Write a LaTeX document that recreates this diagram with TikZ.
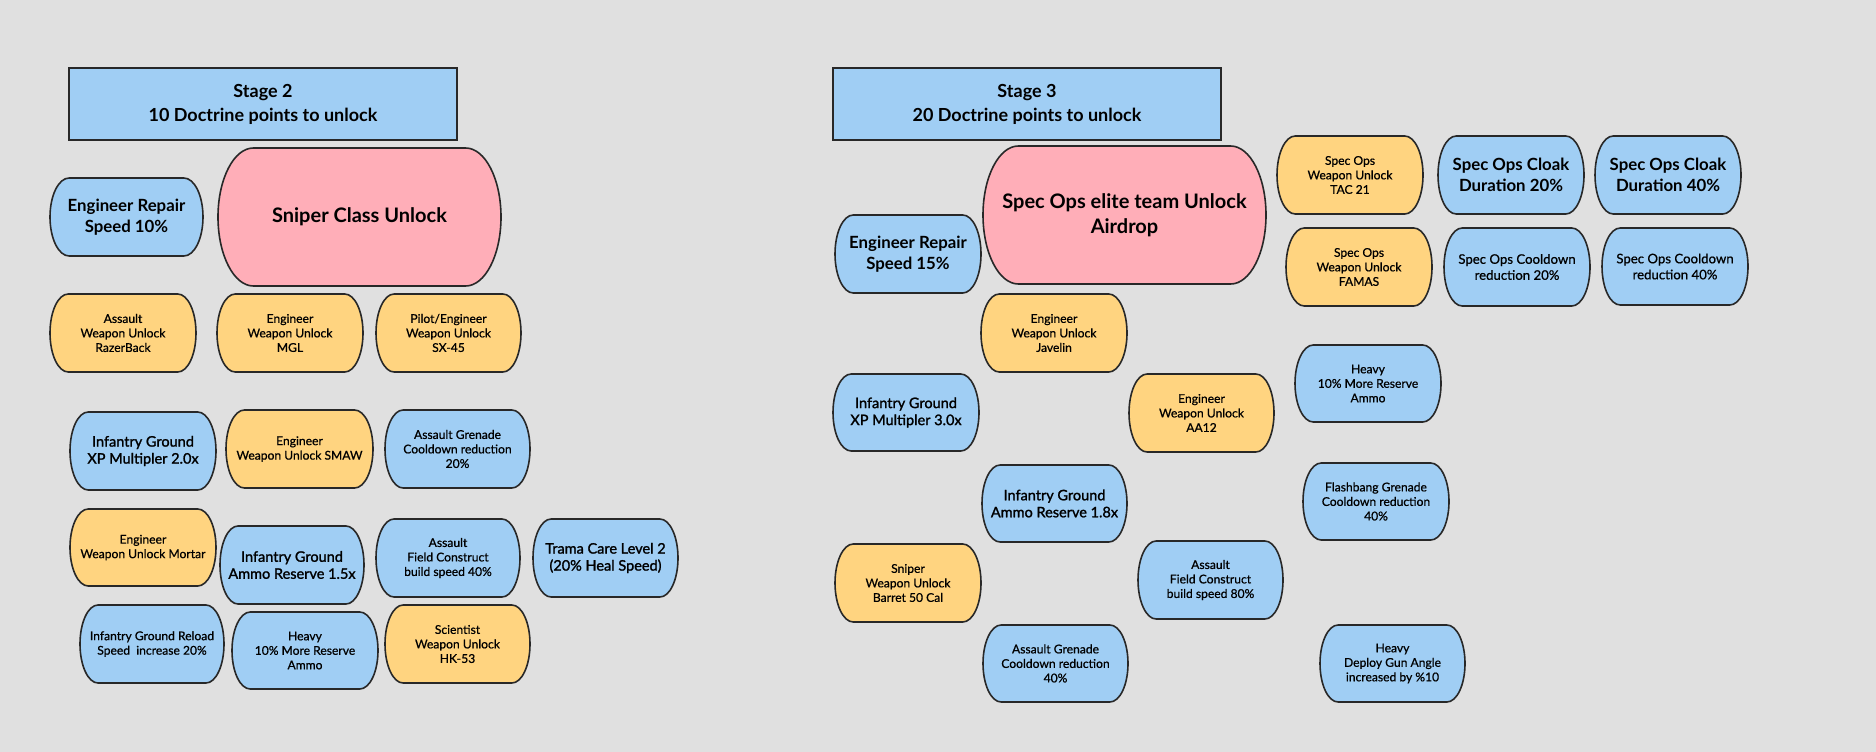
\documentclass[tikz,border=0pt]{standalone}
\usepackage{fontspec}
\setmainfont{Lato}
\newfontfamily\latomed[FakeBold=0.7]{Lato}
\newfontfamily\latosemi[FakeBold=1.5]{Lato}
\definecolor{bgc}{RGB}{224,224,224}
\definecolor{cblue}{RGB}{160,206,244}
\definecolor{corange}{RGB}{255,212,128}
\definecolor{cpink}{RGB}{255,174,184}
\definecolor{bd}{RGB}{40,40,40}
\tikzset{
  pillline/.style={draw=bd, line width=1.6pt},
  fH/.style={align=center, font={\fontsize{18}{24}\selectfont\bfseries}},
  fP/.style={align=center, font={\fontsize{20}{25.5}\selectfont\bfseries}},
  fB/.style={align=center, font={\fontsize{16.8}{21}\selectfont\bfseries}},
  fM/.style={align=center, font={\latosemi\fontsize{14.5}{17}\selectfont}},
  fC/.style={align=center, font={\latomed\fontsize{13.2}{16}\selectfont}},
  fS/.style={align=center, font={\latomed\fontsize{12.1}{14.5}\selectfont}},
  hdrbox/.style={draw=bd, line width=1.5pt, fill=cblue, minimum width=388pt, minimum height=72pt, inner sep=0pt},
}
% pill: flat top and bottom, half-elliptic sides
\newcommand\mkpill[8]{%
  \pgfmathsetmacro\prx{0.125*(#4-#2)}%
  \pgfmathsetmacro\pry{0.5*(#5-#3)}%
  \pgfmathsetmacro\pkx{0.448*\prx}%
  \pgfmathsetmacro\pky{0.448*\pry}%
  \draw[pillline, fill=#6] ({#2+\prx},#3) -- ({#4-\prx},#3)
    .. controls ({#4-\pkx},#3) and (#4,{#3+\pky}) .. (#4,{#3+\pry})
    .. controls (#4,{#5-\pky}) and ({#4-\pkx},#5) .. ({#4-\prx},#5)
    -- ({#2+\prx},#5)
    .. controls ({#2+\pkx},#5) and (#2,{#5-\pky}) .. (#2,{#5-\pry})
    .. controls (#2,{#3+\pky}) and ({#2+\pkx},#3) .. ({#2+\prx},#3) -- cycle;
  \node[#7] (#1) at ({(#2+#4)/2},{(#3+#5)/2}) {#8};
}
\begin{document}
\begin{tikzpicture}[x=1pt,y=-1pt]
\fill[bgc] (0,0) rectangle (1876,752);
\useasboundingbox (0,0) rectangle (1876,752);
% Stage 2
\node[hdrbox, fH] (hdr2) at (263,104) {Stage 2\\10 Doctrine points to unlock};
\mkpill{er10}{50}{178}{203}{256}{cblue}{fB}{Engineer Repair\\Speed 10\%}
\mkpill{sniper}{218}{148}{501}{286}{cpink}{fP}{Sniper Class Unlock}
\mkpill{razer}{50}{294}{196}{372}{corange}{fS}{Assault\\Weapon Unlock\\RazerBack}
\mkpill{mgl}{217}{294}{363}{372}{corange}{fS}{Engineer\\Weapon Unlock\\MGL}
\mkpill{sx45}{376}{294}{521}{372}{corange}{fS}{Pilot/Engineer\\Weapon Unlock\\SX-45}
\mkpill{xp20}{70}{412}{216}{490}{cblue}{fM}{Infantry Ground\\XP Multipler 2.0x}
\mkpill{smaw}{226}{410}{373}{488}{corange}{fS}{Engineer\\Weapon Unlock SMAW}
\mkpill{gren20}{385}{410}{530}{488}{cblue}{fS}{Assault Grenade\\Cooldown reduction\\20\%}
\mkpill{mortar}{70}{509}{216}{586}{corange}{fS}{Engineer\\Weapon Unlock Mortar}
\mkpill{ammo15}{220}{526}{364}{604}{cblue}{fM}{Infantry Ground\\Ammo Reserve 1.5x}
\mkpill{fc40}{376}{519}{520}{597}{cblue}{fS}{Assault\\Field Construct\\build speed 40\%}
\mkpill{trama}{533}{519}{678}{597}{cblue}{fM}{Trama Care Level 2\\(20\% Heal Speed)}
\mkpill{reload}{80}{605}{224}{683}{cblue}{fS}{Infantry Ground Reload\\Speed\ \ increase 20\%}
\mkpill{heavy2}{232}{612}{378}{689}{cblue}{fS}{Heavy\\10\% More Reserve\\Ammo}
\mkpill{hk53}{385}{605}{530}{683}{corange}{fS}{Scientist\\Weapon Unlock\\HK-53}
% Stage 3
\node[hdrbox, fH] (hdr3) at (1027,104) {Stage 3\\20 Doctrine points to unlock};
\mkpill{elite}{983}{146}{1266}{284}{cpink}{fP}{Spec Ops elite team Unlock\\Airdrop}
\mkpill{er15}{835}{215}{981}{293}{cblue}{fB}{Engineer Repair\\Speed 15\%}
\mkpill{tac21}{1277}{136}{1423}{214}{corange}{fS}{Spec Ops\\Weapon Unlock\\TAC 21}
\mkpill{cloak20}{1438}{136}{1584}{214}{cblue}{fB}{Spec Ops Cloak\\Duration 20\%}
\mkpill{cloak40}{1595}{136}{1741}{214}{cblue}{fB}{Spec Ops Cloak\\Duration 40\%}
\mkpill{famas}{1286}{228}{1432}{306}{corange}{fS}{Spec Ops\\Weapon Unlock\\FAMAS}
\mkpill{cd20}{1444}{228}{1590}{306}{cblue}{fC}{Spec Ops Cooldown\\reduction 20\%}
\mkpill{cd40}{1602}{228}{1748}{305}{cblue}{fC}{Spec Ops Cooldown\\reduction 40\%}
\mkpill{javelin}{981}{294}{1127}{372}{corange}{fS}{Engineer\\Weapon Unlock\\Javelin}
\mkpill{heavy3}{1295}{345}{1441}{422}{cblue}{fS}{Heavy\\10\% More Reserve\\Ammo}
\mkpill{xp30}{833}{374}{979}{451}{cblue}{fM}{Infantry Ground\\XP Multipler 3.0x}
\mkpill{aa12}{1129}{374}{1274}{452}{corange}{fS}{Engineer\\Weapon Unlock\\AA12}
\mkpill{ammo18}{982}{465}{1127}{542}{cblue}{fM}{Infantry Ground\\Ammo Reserve 1.8x}
\mkpill{flash}{1303}{463}{1449}{540}{cblue}{fS}{Flashbang Grenade\\Cooldown reduction\\40\%}
\mkpill{barret}{835}{544}{981}{622}{corange}{fS}{Sniper\\Weapon Unlock\\Barret 50 Cal}
\mkpill{fc80}{1138}{541}{1283}{619}{cblue}{fS}{Assault\\Field Construct\\build speed 80\%}
\mkpill{gren40}{983}{625}{1128}{702}{cblue}{fS}{Assault Grenade\\Cooldown reduction\\40\%}
\mkpill{deploy}{1320}{625}{1465}{702}{cblue}{fS}{Heavy\\Deploy Gun Angle\\increased by \%10}
\end{tikzpicture}
\end{document}
